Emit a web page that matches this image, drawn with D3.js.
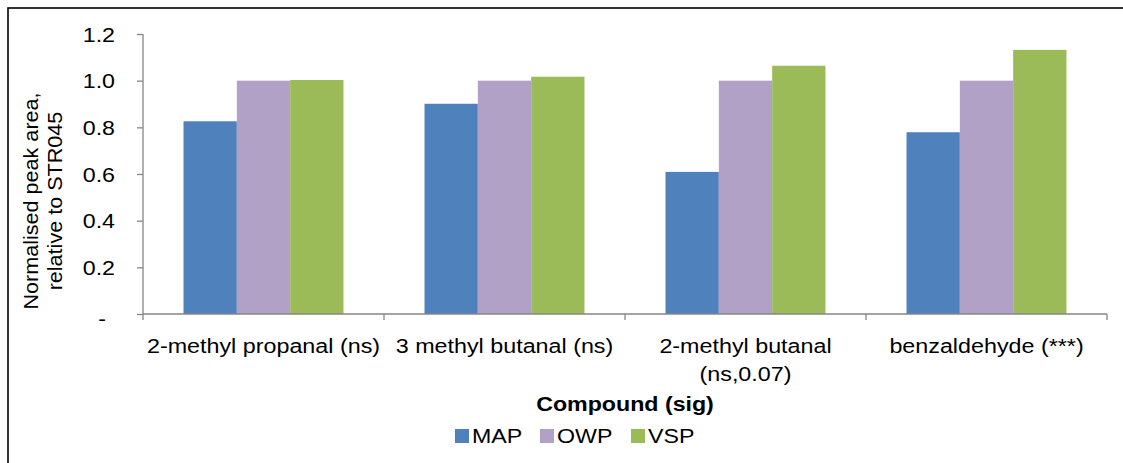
<!DOCTYPE html>
<html>
<head>
<meta charset="utf-8">
<script src="https://cdn.jsdelivr.net/npm/d3@7"></script>
<style>
  html, body { margin: 0; padding: 0; background: #fff; }
  svg { display: block; font-family: "Liberation Sans", Arial, sans-serif; }
</style>
</head>
<body>
<svg id="chart" width="1123" height="463"></svg>
<script>
// Compounds (with significance) on the x axis
const categories = [
  ["2-methyl propanal (ns)"],
  ["3 methyl butanal (ns)"],
  ["2-methyl butanal", "(ns,0.07)"],
  ["benzaldehyde (***)"]
];
const seriesNames = ["MAP", "OWP", "VSP"];
const MAP = [0.826, 0.901, 0.609, 0.779];
const OWP = [1.0, 1.0, 1.0, 1.0];
const VSP = [1.003, 1.017, 1.064, 1.132];
const yTicks = [0, 0.2, 0.4, 0.6, 0.8, 1.0, 1.2];
const colors = ["#4F81BD", "#B2A1C7", "#9BBB59"];

const seriesValues = [MAP, OWP, VSP];
const FONT = "Liberation Sans, Arial, sans-serif";
const SX = 1.16; // horizontal text stretch

const svg = d3.select("#chart");

// Outer chart frame
svg.append("rect")
  .attr("x", 8).attr("y", 8)
  .attr("width", 1200).attr("height", 600)
  .attr("fill", "none").attr("stroke", "#000").attr("stroke-width", 1.6);

const plot = { left: 143, right: 1107, top: 34, bottom: 314 };

const x0 = d3.scaleBand()
  .domain(d3.range(categories.length))
  .range([plot.left, plot.right])
  .paddingInner(0).paddingOuter(0);

const x1 = d3.scaleBand()
  .domain(seriesNames)
  .range([0, x0.bandwidth()])
  .paddingOuter(0.76).paddingInner(0);

const y = d3.scaleLinear().domain([0, 1.2]).range([plot.bottom, plot.top]);

// Bars
const groups = svg.append("g").selectAll("g")
  .data(categories)
  .join("g")
  .attr("transform", (d, i) => `translate(${x0(i)},0)`);

groups.selectAll("rect")
  .data((d, i) => seriesNames.map((s, k) => ({ s, k, v: seriesValues[k][i] })))
  .join("rect")
  .attr("x", d => x1(d.s))
  .attr("width", x1.bandwidth())
  .attr("y", d => y(d.v))
  .attr("height", d => y(0) - y(d.v))
  .attr("fill", d => colors[d.k]);

const axisColor = "#868686";

// Y axis
const yAxis = svg.append("g")
  .attr("transform", `translate(${plot.left},0)`)
  .call(d3.axisLeft(y).tickValues(yTicks).tickSize(6).tickSizeOuter(0)
    .tickFormat(d => d === 0 ? "-" : d3.format(".1f")(d)));
yAxis.select(".domain").attr("stroke", axisColor).attr("stroke-width", 1.3)
  .attr("d", `M0,${plot.top}V${plot.bottom}`);
yAxis.selectAll(".tick line").attr("stroke", axisColor).attr("stroke-width", 1.3);
yAxis.selectAll(".tick text")
  .attr("x", 0)
  .attr("transform", d => d === 0 ? `translate(-37,0) scale(${SX},1)` : `translate(-28,0) scale(${SX},1)`)
  .attr("dy", d => d === 0 ? "0.55em" : "0.35em")
  .attr("fill", "#000")
  .style("font-size", "20px")
  .style("font-family", FONT);

// X axis with boundary ticks between categories
const xAxis = svg.append("g").attr("transform", `translate(0,${plot.bottom})`);
xAxis.append("line")
  .attr("x1", plot.left).attr("x2", plot.right)
  .attr("stroke", axisColor).attr("stroke-width", 1.3);
const bounds = d3.range(categories.length + 1).map(i => i < categories.length ? x0(i) : x0(i - 1) + x0.bandwidth());
xAxis.selectAll("line.tk").data(bounds).join("line")
  .attr("class", "tk")
  .attr("x1", d => d).attr("x2", d => d)
  .attr("y1", 0).attr("y2", 6)
  .attr("stroke", axisColor).attr("stroke-width", 1.3);

// Category labels
const catLabels = svg.append("g").selectAll("text")
  .data(categories)
  .join("text")
  .attr("text-anchor", "middle")
  .attr("transform", (d, i) => `translate(${x0(i) + x0.bandwidth() / 2},353) scale(1.11,1)`)
  .style("font-size", "21px")
  .attr("fill", "#000");
catLabels.selectAll("tspan")
  .data(d => d)
  .join("tspan")
  .attr("x", 0)
  .attr("dy", (d, j) => j === 0 ? 0 : 28)
  .text(d => d);

// Axis titles
svg.append("text")
  .attr("transform", `translate(625,411) scale(${SX},1)`)
  .attr("text-anchor", "middle")
  .style("font-size", "20px").style("font-weight", "bold")
  .text("Compound (sig)");

const yTitle = svg.append("text")
  .attr("transform", "translate(38,201) rotate(-90) scale(1.08,1)")
  .attr("text-anchor", "middle")
  .style("font-size", "20px");
yTitle.append("tspan").attr("x", 0).attr("dy", 0).text("Normalised peak area,");
yTitle.append("tspan").attr("x", 0).attr("dy", 24).text("relative to STR045");

// Legend
const legendX = [455, 540, 631];
const legend = svg.append("g").selectAll("g")
  .data(seriesNames)
  .join("g")
  .attr("transform", (d, i) => `translate(${legendX[i]},429)`);
legend.append("rect")
  .attr("width", 14).attr("height", 14)
  .attr("fill", (d, i) => colors[i]);
legend.append("text")
  .attr("transform", `translate(17,14) scale(${SX},1)`)
  .style("font-size", "20px")
  .text(d => d);
</script>
</body>
</html>
